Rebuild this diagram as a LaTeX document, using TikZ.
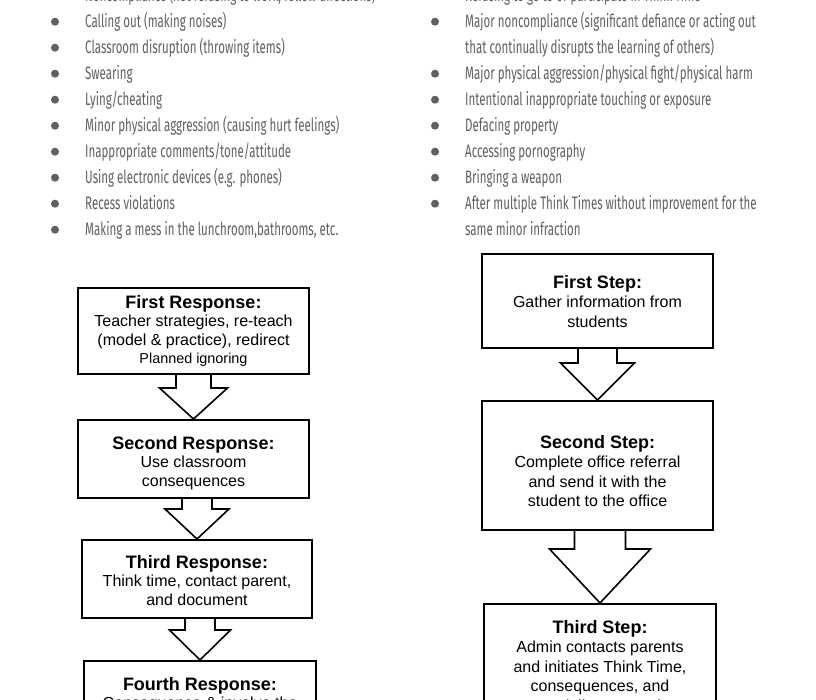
\documentclass[tikz,border=0pt]{standalone}
\usepackage{fontspec}
\setmainfont{Liberation Sans}
\newfontfamily\condfont[FakeStretch=0.64]{Fira Sans}
\usetikzlibrary{calc}
\definecolor{bulletgray}{HTML}{606060}
\tikzset{
  respbox/.style={draw, line width=2pt, inner sep=0pt, anchor=north west},
  boxtext/.style={align=center, inner sep=0pt, anchor=north, font=\fontsize{16}{18.5}\selectfont},
  boxtextr/.style={boxtext, font=\fontsize{16}{19.5}\selectfont},
  blockarr/.style={draw, line width=1.6pt, line join=miter},
  bullettext/.style={anchor=base west, inner sep=0pt, text=bulletgray, font=\condfont\fontsize{18}{20}\selectfont},
  bdot/.style={fill=bulletgray}
}
\newcommand\ttl[1]{{\fontsize{18}{18.5}\selectfont\bfseries #1}}
% #1 from node, #2 to node, #3 stem half width, #4 head half width, #5 head length
\newcommand\blockarrow[5]{%
  \draw[blockarr] let \p1=(#1.south), \p2=(#2.north) in
    (\x2-#3pt,\y1) -- (\x2-#3pt,\y2+#5pt) -- (\x2-#4pt,\y2+#5pt) -- (\x2,\y2)
    -- (\x2+#4pt,\y2+#5pt) -- (\x2+#3pt,\y2+#5pt) -- (\x2+#3pt,\y1);}
\begin{document}
\begin{tikzpicture}[x=1pt,y=-1pt]
\useasboundingbox (0,0) rectangle (816,700);
\clip (0,0) rectangle (816,700);
\fill[white] (0,0) rectangle (816,700);

% left bullet list
\foreach \t [count=\k from 0] in {%
  {Noncompliance (not refusing to work, follow directions)},
  {Calling out (making noises)},
  {Classroom disruption (throwing items)},
  {Swearing},
  {Lying/cheating},
  {Minor physical aggression (causing hurt feelings)},
  {Inappropriate comments/tone/attitude},
  {Using electronic devices (e.g. phones)},
  {Recess violations},
  {Making a mess in the lunchroom,bathrooms, etc.}}{
  \fill[bdot] (55,{-4.3+26*\k}) circle (4pt);
  \node[bullettext] (L\k) at (85,{-4.3+26*\k+6}) {\t};
}

% right bullet list
\foreach \k in {0,1,3,4,5,6,7,8}{
  \fill[bdot] (435,{-4.3+26*\k}) circle (4pt);
}
\foreach \t [count=\k from 0] in {%
  {Refusing to go to or participate in Think Time},
  {Major noncompliance (significant defiance or acting out},
  {that continually disrupts the learning of others)},
  {Major physical aggression/physical fight/physical harm},
  {Intentional inappropriate touching or exposure},
  {Defacing property},
  {Accessing pornography},
  {Bringing a weapon},
  {After multiple Think Times without improvement for the},
  {same minor infraction}}{
  \node[bullettext] (R\k) at (465,{-4.3+26*\k+6}) {\t};
}

% left flow
\node[respbox, minimum width=231pt, minimum height=86pt] (b1) at (77,287) {};
\node[respbox, minimum width=231pt, minimum height=78pt] (b2) at (77,419) {};
\node[respbox, minimum width=230pt, minimum height=78pt] (b3) at (81,539) {};
\node[respbox, minimum width=232pt, minimum height=120pt] (b4) at (83,660) {};

\node[boxtext] (t1) at (b1.north |- 0,295) {\ttl{First Response:}\\Teacher strategies, re-teach\\(model \& practice), redirect\\{\fontsize{14.4}{18.5}\selectfont Planned ignoring}};
\node[boxtext] (t2) at (b2.north |- 0,436) {\ttl{Second Response:}\\Use classroom\\consequences};
\node[boxtext] (t3) at (b3.north |- 0,555) {\ttl{Third Response:}\\Think time, contact parent,\\and document};
\node[boxtext] (t4) at (b4.north |- 0,677) {\ttl{Fourth Response:}\\Consequence \& involve the};

\blockarrow{b1}{b2}{17.5}{34}{31}
\blockarrow{b2}{b3}{15}{32}{30}
\blockarrow{b3}{b4}{15}{30.5}{30}

% right flow
\node[respbox, minimum width=231pt, minimum height=94pt] (r1) at (481,253) {};
\node[respbox, minimum width=231pt, minimum height=129pt] (r2) at (481,400) {};
\node[respbox, minimum width=232pt, minimum height=150pt] (r3) at (483,603) {};

\node[boxtextr] (s1) at (r1.north |- 0,275) {\ttl{First Step:}\\Gather information from\\students};
\node[boxtextr] (s2) at (r2.north |- 0,435) {\ttl{Second Step:}\\Complete office referral\\and send it with the\\student to the office};
\node[boxtextr] (s3) at (r3.north |- 0,620) {\ttl{Third Step:}\\Admin contacts parents\\and initiates Think Time,\\consequences, and\\potentially suspension};

\blockarrow{r1}{r2}{19.5}{37}{37}
\blockarrow{r2}{r3}{25.5}{50.5}{54}
\end{tikzpicture}
\end{document}
